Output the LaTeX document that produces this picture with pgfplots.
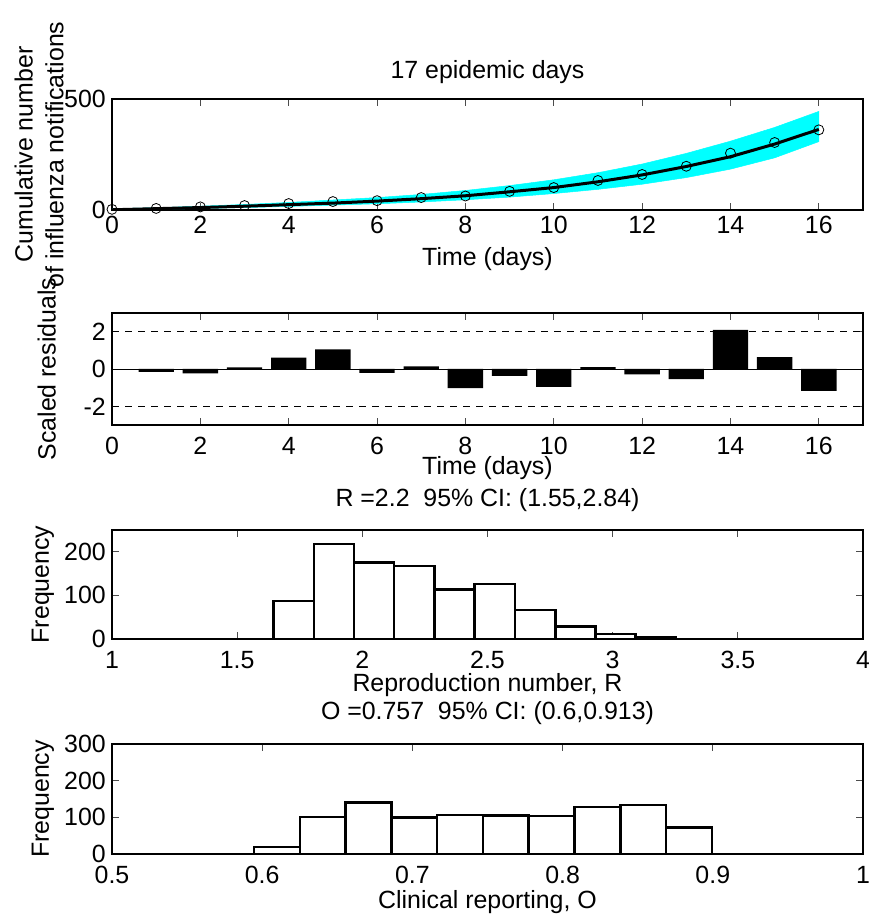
\documentclass[border=0pt]{standalone}
\usepackage{pgfplots}
\pgfplotsset{compat=1.18}
\usepackage{fontspec}
\setmainfont{Liberation Sans}
\definecolor{mcyan}{RGB}{0,255,255}

\pgfplotsset{
  mlab/.style={
    scale only axis, width=751bp, anchor=south west,
    axis line style={line width=1.2bp},
    tick style={line width=0.8bp, black!70},
    tick align=inside, major tick length=7bp,
    /pgf/number format/assume math mode=true,
    xticklabel style={anchor=north, inner sep=0pt, yshift=-12bp},
    yticklabel style={anchor=east, inner sep=0pt, xshift=-6bp},
    xlabel style={at={(axis description cs:0.5,0)}, anchor=center, yshift=-46bp},
    ylabel style={at={(axis description cs:-0.092,0.5)}, anchor=center},
    title style={at={(axis description cs:0.5,1)}, anchor=center, yshift=24bp},
  },
}

\begin{document}
\begin{tikzpicture}[font=\fontsize{25}{31}\selectfont]
\useasboundingbox (0,0) rectangle (869bp,917bp);

% cumulative notifications
\begin{axis}[mlab, at={(112bp,707bp)}, height=111bp,
  xmin=0, xmax=17, ymin=0, ymax=500,
  xtick={0,2,...,16}, ytick={0,500},
  xticklabel style={yshift=6bp},
  xlabel={Time (days)}, xlabel style={yshift=-3bp},
  ylabel={Cumulative number\\of influenza notifications},
  ylabel style={align=center, at={(axis description cs:-0.097,0.5)}},
  title={17 epidemic days}, title style={yshift=-3bp}]
% band of simulated curves: upper edge forward, lower edge back
\addplot[fill=mcyan, draw=mcyan, line width=0.5bp] coordinates {
(0,6) (1,10) (2,17) (3,25) (4,34) (5,45) (6,56) (7,70) (8,88)
(9,110) (10,136) (11,168) (12,207) (13,255) (14,310) (15,372) (16,444)
(16,308) (15,235) (14,184) (13,146) (12,116) (11,93) (10,74) (9,58)
(8,46) (7,36) (6,28) (5,22) (4,16) (3,11) (2,7) (1,3) (0,0)};
\addplot[black, line width=3bp] coordinates {
(0,1) (1,6) (2,11) (3,17) (4,24) (5,31) (6,40) (7,51) (8,64)
(9,82) (10,101) (11,127) (12,158) (13,196) (14,240) (15,297) (16,363)};
\addplot[only marks, mark=o, mark size=5bp, mark options={black, line width=0.8bp}] coordinates {
(0,3) (1,7) (2,14) (3,20) (4,29) (5,38) (6,42) (7,56) (8,63)
(9,84) (10,101) (11,133) (12,160) (13,197) (14,256) (15,304) (16,361)};
\end{axis}

% scaled residuals
\begin{axis}[mlab, at={(112bp,492bp)}, height=112bp,
  xmin=0, xmax=17, ymin=-3, ymax=3,
  xtick={0,2,...,16}, ytick={-2,0,2},
  xlabel={Time (days)}, xlabel style={yshift=3bp},
  ylabel={Scaled residuals}, ylabel style={at={(axis description cs:-0.087,0.5)}}]
\addplot[black, line width=0.8bp] coordinates {(0,0) (17,0)};
\addplot[black, line width=0.8bp, dash pattern=on 7bp off 6bp] coordinates {(0,2) (17,2)};
\addplot[black, line width=0.8bp, dash pattern=on 7bp off 6bp] coordinates {(0,-2) (17,-2)};
\addplot[ybar, bar width=0.8, bar shift=0pt, fill=black, draw=none] coordinates {
(1,-0.16) (2,-0.23) (3,0.09) (4,0.61) (5,1.05) (6,-0.21) (7,0.14) (8,-1.02)
(9,-0.37) (10,-0.96) (11,0.1) (12,-0.29) (13,-0.54) (14,2.1) (15,0.64) (16,-1.17)};
\end{axis}

% R histogram
\begin{axis}[mlab, at={(112bp,278bp)}, height=109bp,
  xmin=1, xmax=4, ymin=0, ymax=250,
  xtick={1,1.5,...,4}, ytick={0,100,200},
  xlabel={Reproduction number, R},
  ylabel={Frequency},
  title={R =2.2\ \ 95\% CI: (1.55,2.84)}]
\addplot[ybar interval, fill=white, draw=black, line width=2.5bp] coordinates {
(1.645,87) (1.806,218) (1.967,176) (2.127,167) (2.288,113) (2.449,126)
(2.610,67) (2.771,29) (2.931,12) (3.092,5) (3.253,5)};
\end{axis}

% O histogram
\begin{axis}[mlab, at={(112bp,63bp)}, height=110bp,
  xmin=0.5, xmax=1, ymin=0, ymax=300,
  xtick={0.5,0.6,...,1.0}, ytick={0,100,200,300},
  xlabel={Clinical reporting, O}, xlabel style={yshift=-2bp},
  ylabel={Frequency},
  title={O =0.757\ \ 95\% CI: (0.6,0.913)}, title style={yshift=1bp}]
\addplot[ybar interval, fill=white, draw=black, line width=2.5bp] coordinates {
(0.5946,19) (0.6251,101) (0.6556,141) (0.6860,99) (0.7165,106) (0.7470,105)
(0.7774,103) (0.8079,128) (0.8384,134) (0.8688,72) (0.8993,72)};
\end{axis}
\end{tikzpicture}
\end{document}
